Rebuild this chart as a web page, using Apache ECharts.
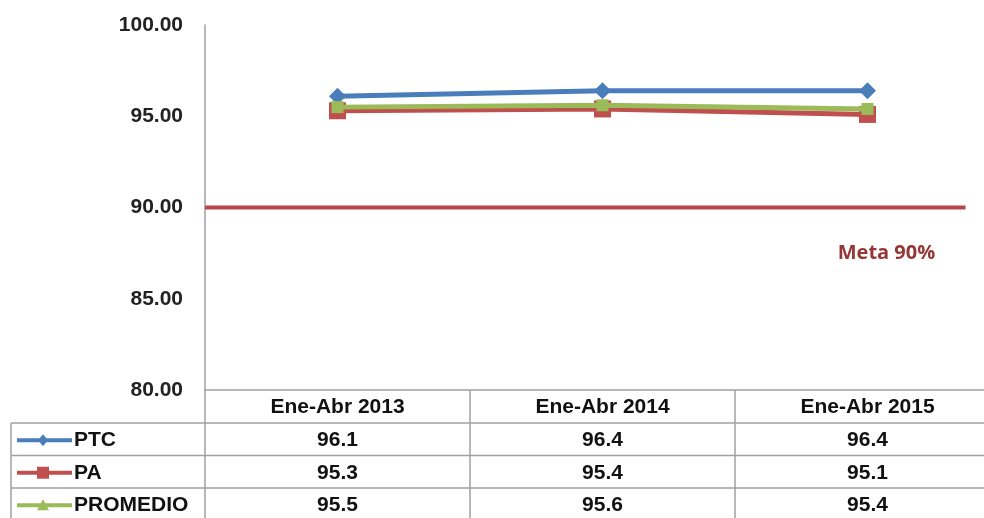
<!DOCTYPE html>
<html><head><meta charset="utf-8">
<script src="https://cdn.jsdelivr.net/npm/echarts@6/dist/echarts.min.js"></script>
<style>html,body{margin:0;padding:0;background:#fff;overflow:hidden}#c{width:1000px;height:518px}</style>
</head><body><div id="c"></div>
<script>
const categories = ['Ene-Abr 2013', 'Ene-Abr 2014', 'Ene-Abr 2015'];
const seriesNames = ['PTC', 'PA', 'PROMEDIO'];
const ptc = [96.1, 96.4, 96.4];
const pa = [95.3, 95.4, 95.1];
const promedio = [95.5, 95.6, 95.4];
const metaValue = 90;
const metaLabel = 'Meta 90%';
const metaSpan = [0, 2.87]; // extent of the goal line, in category-width units
const yTicks = [80, 85, 90, 95, 100];

const colors = ['#4A7EBB', '#C0504D', '#9BBB59'];
const symbols = ['diamond', 'rect', 'rect'];
const legendSymbols = ['diamond', 'rect', 'triangle'];
const allData = [ptc, pa, promedio];
const FONT = '"Liberation Sans", Arial, sans-serif';
const FS = 21;

const chart = echarts.init(document.getElementById('c'));
const series = allData.map((d, i) => ({
  name: seriesNames[i], type: 'line', data: d, xAxisIndex: 0,
  symbol: symbols[i], symbolSize: i === 2 ? 12 : 17,
  lineStyle: { color: colors[i], width: 5 },
  itemStyle: { color: colors[i] },
  z: i === 0 ? 3 : (i === 1 ? 2 : 4)
}));
series.push({
  name: 'Meta', type: 'line', xAxisIndex: 1, symbol: 'none', silent: true,
  data: [[metaSpan[0], metaValue], [metaSpan[1], metaValue]],
  lineStyle: { color: '#B8474B', width: 4 }, z: 1
});
const option = {
  animation: false,
  grid: { left: 205, right: 0, top: 25, bottom: 128 },
  xAxis: [{
    type: 'category', data: categories, boundaryGap: true,
    axisLine: { lineStyle: { color: '#A0A0A0', width: 1.5 } },
    axisTick: { show: false }, axisLabel: { show: false }
  }, {
    type: 'value', min: 0, max: categories.length, show: false
  }],
  yAxis: {
    type: 'value', min: yTicks[0], max: yTicks[yTicks.length - 1], interval: 5,
    splitLine: { show: false },
    axisLine: { show: true, lineStyle: { color: '#A0A0A0', width: 1.5 } },
    axisTick: { show: false },
    axisLabel: { formatter: v => v.toFixed(2), fontFamily: FONT, fontWeight: 'bold', fontSize: FS, color: '#222', margin: 22 }
  },
  series
};
chart.setOption(option);

// Data table beneath the plot
const g = [];
const bottomLeft = chart.convertToPixel({ xAxisIndex: 0, yAxisIndex: 0 }, [0, yTicks[0]]);
const tableTop = bottomLeft[1];
const headerH = 33, rowH = 32.5;
const colW = chart.convertToPixel({ xAxisIndex: 0 }, 1) - chart.convertToPixel({ xAxisIndex: 0 }, 0);
const firstCenter = chart.convertToPixel({ xAxisIndex: 0 }, 0);
const leftEdge = firstCenter - colW / 2;
const tableLeft = 11;
const tableBottom = tableTop + headerH + rowH * 3;
const border = { stroke: '#A0A0A0', lineWidth: 1.5 };
for (let c = 0; c <= categories.length; c++) {
  const x = leftEdge + c * colW;
  g.push({ type: 'line', shape: { x1: x, y1: tableTop, x2: x, y2: tableBottom }, style: border });
}
g.push({ type: 'line', shape: { x1: tableLeft, y1: tableTop + headerH, x2: tableLeft, y2: tableBottom }, style: border });
for (let r = 0; r <= 3; r++) {
  const y = tableTop + headerH + r * rowH;
  g.push({ type: 'line', shape: { x1: tableLeft, y1: y, x2: 1000, y2: y }, style: border });
}
categories.forEach((c, i) => {
  g.push({ type: 'text', x: chart.convertToPixel({ xAxisIndex: 0 }, i), y: tableTop + headerH / 2 + 1,
    style: { text: c, fontFamily: FONT, fontWeight: 'bold', fontSize: FS, fill: '#111', align: 'center', verticalAlign: 'middle' } });
});
allData.forEach((d, r) => {
  const cy = tableTop + headerH + r * rowH + rowH / 2 + 1;
  g.push({ type: 'line', shape: { x1: 17, y1: cy, x2: 72, y2: cy }, style: { stroke: colors[r], lineWidth: 4 } });
  const mx = 43;
  if (legendSymbols[r] === 'diamond') {
    g.push({ type: 'polygon', shape: { points: [[mx, cy - 6], [mx + 5, cy], [mx, cy + 6], [mx - 5, cy]] }, style: { fill: colors[r] } });
  } else if (legendSymbols[r] === 'rect') {
    g.push({ type: 'rect', shape: { x: mx - 6, y: cy - 6, width: 12, height: 12 }, style: { fill: colors[r] } });
  } else {
    g.push({ type: 'polygon', shape: { points: [[mx, cy - 6], [mx + 6, cy + 5], [mx - 6, cy + 5]] }, style: { fill: colors[r] } });
  }
  g.push({ type: 'text', x: 74, y: cy, style: { text: seriesNames[r], fontFamily: FONT, fontWeight: 'bold', fontSize: FS, fill: '#111', align: 'left', verticalAlign: 'middle' } });
  d.forEach((v, i) => {
    g.push({ type: 'text', x: chart.convertToPixel({ xAxisIndex: 0 }, i), y: cy,
      style: { text: v.toFixed(1), fontFamily: FONT, fontWeight: 'bold', fontSize: FS, fill: '#111', align: 'center', verticalAlign: 'middle' } });
  });
});
const metaPos = chart.convertToPixel({ xAxisIndex: 0, yAxisIndex: 0 }, [2, metaValue - 2.5]);
g.push({ type: 'text', x: metaPos[0] + 19, y: metaPos[1],
  style: { text: metaLabel, fontFamily: '"Open Sans", sans-serif', fontWeight: 'bold', fontSize: 20, fill: '#953735', align: 'center', verticalAlign: 'middle' } });
chart.setOption({ graphic: g });
</script>
</body></html>
